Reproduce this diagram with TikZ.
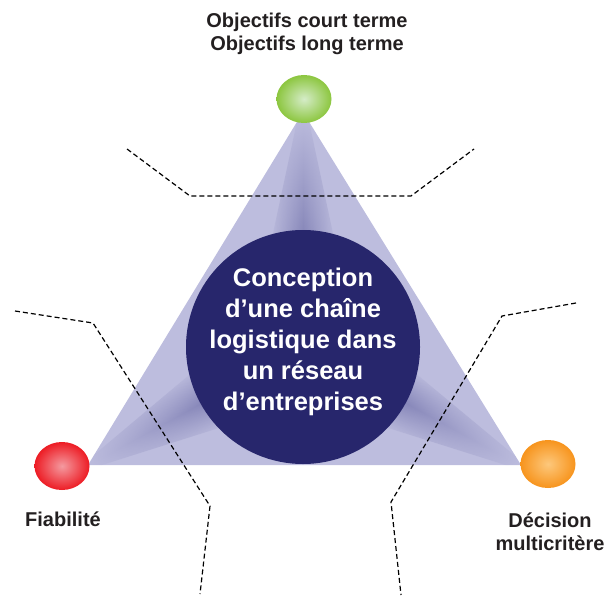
\documentclass[tikz,border=0pt]{standalone}
\usepackage{fontspec}
\setmainfont{Liberation Sans}
\usetikzlibrary{shapes.geometric,calc,fadings}
\definecolor{TriLight}{HTML}{BDBDDE}
\definecolor{TriRidge}{HTML}{7F7FB4}
\definecolor{CoreNavy}{HTML}{27266C}
\definecolor{LabelGray}{HTML}{231F20}
\definecolor{BallGreen}{HTML}{8CC63F}
\definecolor{BallGreenLight}{HTML}{D5ECC8}
\definecolor{BallRed}{HTML}{ED1C24}
\definecolor{BallRedLight}{HTML}{F49AA0}
\definecolor{BallOrange}{HTML}{F7941D}
\definecolor{BallOrangeLight}{HTML}{FDC87C}
\tikzfading[name=ridgefade, left color=transparent!0, right color=transparent!100]

\begin{document}
\begin{tikzpicture}[x=1pt, y=-1pt,
    ball/.style={ellipse, minimum width=55pt, minimum height=48pt, inner sep=0pt},
    lbl/.style={text=LabelGray, font=\fontsize{20}{23}\selectfont\bfseries, align=center},
    ridge/.style={top color=TriLight, bottom color=TriLight, middle color=TriRidge, path fading=ridgefade},
    limit/.style={line width=1.2pt, dash pattern=on 5pt off 3pt}]
    \useasboundingbox (0,0) rectangle (607,596);
    % triangle corners
    \coordinate (apex) at (303,112);
    \coordinate (left) at (88,465);
    \coordinate (right) at (521,465);
    \coordinate (ctr) at (303,347);
    \fill[TriLight] (apex) -- (left) -- (right) -- cycle;
    \begin{scope}
      \clip (apex) -- (left) -- (right) -- cycle;
      \foreach \a/\len in {90/235, 208.8/246, 331.4/248}{
        \begin{scope}[transform canvas={shift={(ctr)}, rotate=\a}]
          \shade[ridge] (95,-34) -- (\len,-4) -- (\len,4) -- (95,34) -- cycle;
        \end{scope}
      }
    \end{scope}
    \node[circle, fill=CoreNavy, minimum size=234pt, inner sep=0pt] (core) at (ctr) {};
    \node[text=white, align=center, font=\fontsize{25.5}{31}\selectfont\bfseries] (coretxt) at (303,342) {Conception\\d’une chaîne\\logistique dans\\un réseau\\d’entreprises};
    % corner balls
    \node[ball, inner color=BallGreenLight, outer color=BallGreen] (obj) at (304,99) {};
    \node[ball, inner color=BallRedLight, outer color=BallRed] (fiab) at (62,466) {};
    \node[ball, inner color=BallOrangeLight, outer color=BallOrange] (dec) at (548,464) {};
    \node[lbl] (objlbl) at (307,34) {Objectifs court terme\\Objectifs long terme};
    \node[lbl] (fiablbl) at (63,519) {Fiabilité};
    \node[lbl] (declbl) at (550,532) {Décision\\multicritère};
    % dashed limits
    \draw[limit] (127,149) -- (190,196) -- (411,196) -- (474,149);
    \draw[limit] (15,311) -- (93,323) -- (210,506) -- (200,594);
    \draw[limit] (576,303) -- (502,316) -- (391,502) -- (401,595);
\end{tikzpicture}
\end{document}
